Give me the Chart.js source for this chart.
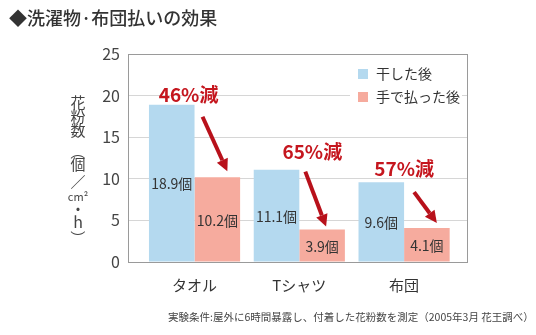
<!DOCTYPE html>
<html lang="ja">
<head>
<meta charset="UTF-8">
<title>洗濯物・布団払いの効果</title>
<script src="https://cdn.jsdelivr.net/npm/chart.js"></script>
<style>
  body { margin: 0; background: #fff; }
  #wrap { width: 536px; height: 335px; position: relative; }
</style>
</head>
<body>
<div id="wrap"><canvas id="pollenChart"></canvas></div>
<script>
// 花粉数（個/cm²・h）
const categories = ['タオル', 'Tシャツ', '布団'];
const seriesNames = ['干した後', '手で払った後'];
const driedValues = [18.9, 11.1, 9.6];
const brushedValues = [10.2, 3.9, 4.1];
const yTicks = [0, 5, 10, 15, 20, 25];

const FONT = "'Noto Sans CJK JP', 'Noto Sans', sans-serif";
const BLUE = '#b4d9ef';
const PINK = '#f6ab9e';
const RED = '#c5161e';
const ARROW = '#b8111b';
const TEXT = '#333';

Chart.defaults.font.family = FONT;

// 減少率の注記・矢印の位置調整（px）
const noteTweaks = [
  { tx: -6, ty: -10, sx: 8, sy: 22, ex: 10, ey: -6 },
  { tx: 13, ty: -18, sx: 6, sy: 20, ex: 4, ey: -3 },
  { tx: 0, ty: -13, sx: 10, sy: 23, ex: 10, ey: -5 }
];

// 外枠
const framePlugin = {
  id: 'frame',
  beforeDatasetsDraw(chart) {
    const { ctx, chartArea: a } = chart;
    ctx.save();
    ctx.strokeStyle = '#9a9a9a';
    ctx.lineWidth = 1;
    ctx.strokeRect(a.left + 0.5, a.top + 0.5, a.right - a.left - 1, a.bottom - a.top);
    ctx.restore();
  }
};

// 凡例（グラフ内右上・白背景）
const boxLegend = {
  id: 'boxLegend',
  beforeDatasetsDraw(chart) {
    const { ctx, chartArea: a } = chart;
    ctx.save();
    ctx.fillStyle = '#fff';
    ctx.fillRect(a.right - 118, a.top + 8, 112, 46);
    ctx.font = '14px ' + FONT;
    ctx.textBaseline = 'middle';
    chart.data.datasets.forEach((ds, i) => {
      const y = a.top + 20 + i * 23;
      ctx.fillStyle = ds.backgroundColor;
      ctx.fillRect(a.right - 110, y - 5, 10, 10);
      ctx.fillStyle = TEXT;
      ctx.fillText(ds.label, a.right - 92, y);
    });
    ctx.restore();
  }
};

// 棒の中の数値ラベルと減少率の注記
const barNotes = {
  id: 'barNotes',
  afterDatasetsDraw(chart) {
    const { ctx } = chart;
    const dried = chart.getDatasetMeta(0).data;
    const brushed = chart.getDatasetMeta(1).data;
    ctx.save();
    ctx.font = '14px ' + FONT;
    ctx.fillStyle = TEXT;
    ctx.textAlign = 'center';
    ctx.textBaseline = 'middle';
    [dried, brushed].forEach((bars, d) => {
      const values = chart.data.datasets[d].data;
      bars.forEach((bar, i) => {
        ctx.fillText(values[i].y + '個', bar.x, (bar.y + bar.base) / 2 + 1);
      });
    });

    categories.forEach((_, i) => {
      const b = dried[i], p = brushed[i], t = noteTweaks[i];
      const pct = Math.round((1 - brushedValues[i] / driedValues[i]) * 100);
      const cx = (b.x + p.x) / 2;
      const ty = b.y + t.ty;
      ctx.font = 'bold 19px ' + FONT;
      ctx.fillStyle = RED;
      ctx.fillText(pct + '%減', cx + t.tx, ty);

      const x0 = cx + t.sx, y0 = ty + t.sy;
      const x1 = p.x + t.ex, y1 = p.y + t.ey;
      const ang = Math.atan2(y1 - y0, x1 - x0);
      const head = 12, half = 6;
      const bx = x1 - head * Math.cos(ang), by = y1 - head * Math.sin(ang);
      ctx.strokeStyle = ARROW;
      ctx.lineWidth = 4;
      ctx.beginPath();
      ctx.moveTo(x0, y0);
      ctx.lineTo(bx, by);
      ctx.stroke();
      ctx.fillStyle = ARROW;
      ctx.beginPath();
      ctx.moveTo(x1, y1);
      ctx.lineTo(bx + half * Math.sin(ang), by - half * Math.cos(ang));
      ctx.lineTo(bx - half * Math.sin(ang), by + half * Math.cos(ang));
      ctx.closePath();
      ctx.fill();
    });
    ctx.restore();
  }
};

// 見出し・縦書きの軸タイトル・注記
const texts = {
  id: 'texts',
  afterDraw(chart) {
    const { ctx } = chart;
    ctx.save();
    ctx.fillStyle = TEXT;
    ctx.textBaseline = 'middle';
    ctx.font = '500 18px ' + FONT;
    ctx.fillText('◆洗濯物·布団払いの効果', 9, 18);

    // [文字, 中心y, サイズ, 90°回転]
    const parts = [
      ['花', 102, 15, false], ['粉', 116, 15, false], ['数', 130, 15, false],
      ['（', 152, 15, true], ['個', 164, 15, false], ['／', 182, 15, false],
      ['cm²', 197, 11, false], ['・', 209, 15, false], ['h', 222, 16, false],
      ['）', 238, 15, true]
    ];
    ctx.textAlign = 'center';
    ctx.fillStyle = '#444';
    parts.forEach(([s, y, size, rot]) => {
      ctx.font = size + 'px ' + FONT;
      if (rot) {
        ctx.save();
        ctx.translate(78, y);
        ctx.rotate(Math.PI / 2);
        ctx.fillText(s, 0, 0);
        ctx.restore();
      } else {
        ctx.fillText(s, 78, y);
      }
    });

    ctx.textAlign = 'left';
    ctx.font = '10.5px ' + FONT;
    ctx.fillText('実験条件:屋外に6時間暴露し、付着した花粉数を測定（2005年3月 花王調べ）', 168, 317);
    ctx.restore();
  }
};

new Chart(document.getElementById('pollenChart'), {
  type: 'bar',
  data: {
    datasets: [
      {
        label: seriesNames[0],
        data: driedValues.map((v, i) => ({ x: i, y: v })),
        backgroundColor: BLUE,
        categoryPercentage: 0.87,
        barPercentage: 1
      },
      {
        label: seriesNames[1],
        data: brushedValues.map((v, i) => ({ x: i, y: v })),
        backgroundColor: PINK,
        categoryPercentage: 0.87,
        barPercentage: 1
      }
    ]
  },
  options: {
    responsive: true,
    maintainAspectRatio: false,
    animation: false,
    layout: { padding: { left: 0, top: 54, right: 68, bottom: 33 } },
    plugins: {
      legend: { display: false },
      tooltip: { enabled: false }
    },
    scales: {
      x: {
        type: 'linear',
        offset: false,
        min: -0.635,
        max: 2.61,
        afterBuildTicks: s => { s.ticks = categories.map((_, i) => ({ value: i })); },
        afterFit: s => { s.height = 40; },
        grid: { display: false, drawTicks: false },
        border: { display: false },
        ticks: {
          callback: v => categories[v],
          padding: 14,
          maxRotation: 0,
          autoSkip: false,
          color: TEXT,
          font: { size: 15 }
        }
      },
      y: {
        min: 0,
        max: 25,
        afterBuildTicks: s => { s.ticks = yTicks.map(v => ({ value: v })); },
        afterFit: s => { s.width = 128; },
        grid: { color: '#d6d6d6', drawTicks: false },
        border: { display: false },
        ticks: { padding: 8, color: '#444', font: { size: 16 } }
      }
    }
  },
  plugins: [framePlugin, boxLegend, barNotes, texts]
});
</script>
</body>
</html>
